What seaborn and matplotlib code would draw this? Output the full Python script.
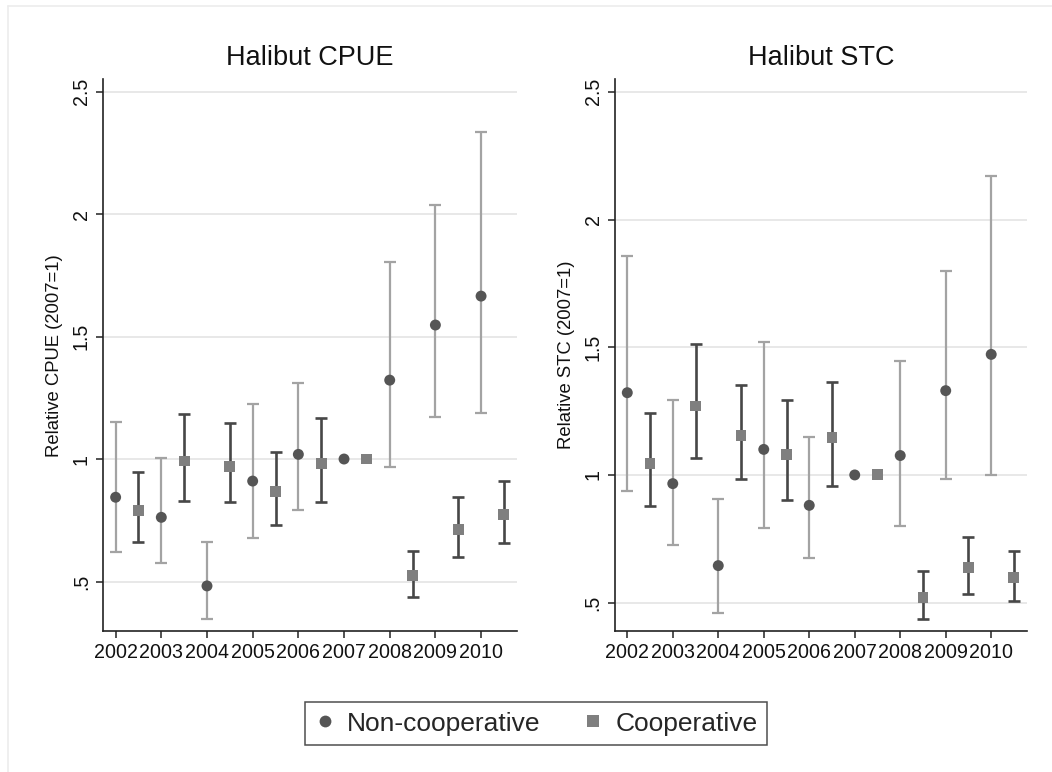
import numpy as np
import pandas as pd
import matplotlib
matplotlib.use("Agg")
import matplotlib.pyplot as plt
import seaborn as sns

years = [2002, 2003, 2004, 2005, 2006, 2007, 2008, 2009, 2010]
groups = ["Non-cooperative", "Cooperative"]

# Halibut CPUE, relative to 2007
cpue_non = [0.844, 0.762, 0.482, 0.910, 1.019, 1.000, 1.322, 1.547, 1.665]
cpue_non_lo = [0.622, 0.574, 0.348, 0.676, 0.792, np.nan, 0.969, 1.173, 1.186]
cpue_non_hi = [1.150, 1.003, 0.662, 1.226, 1.311, np.nan, 1.803, 2.037, 2.336]
cpue_coop = [0.790, 0.992, 0.971, 0.867, 0.982, 1.000, 0.524, 0.713, 0.774]
cpue_coop_lo = [0.660, 0.830, 0.824, 0.732, 0.826, np.nan, 0.438, 0.601, 0.658]
cpue_coop_hi = [0.948, 1.185, 1.146, 1.030, 1.169, np.nan, 0.624, 0.845, 0.909]

# Halibut STC, relative to 2007
stc_non = [1.322, 0.966, 0.645, 1.100, 0.881, 1.000, 1.076, 1.330, 1.472]
stc_non_lo = [0.937, 0.725, 0.459, 0.794, 0.674, np.nan, 0.800, 0.983, 1.000]
stc_non_hi = [1.858, 1.294, 0.905, 1.522, 1.150, np.nan, 1.446, 1.798, 2.169]
stc_coop = [1.044, 1.270, 1.153, 1.080, 1.145, 1.000, 0.521, 0.636, 0.597]
stc_coop_lo = [0.880, 1.068, 0.983, 0.902, 0.958, np.nan, 0.436, 0.534, 0.507]
stc_coop_hi = [1.241, 1.513, 1.353, 1.294, 1.363, np.nan, 0.622, 0.757, 0.701]

titles = ["Halibut CPUE", "Halibut STC"]
ylabels = ["Relative CPUE (2007=1)", "Relative STC (2007=1)"]
ytick_vals = [0.5, 1, 1.5, 2, 2.5]
ytick_text = [".5", "1", "1.5", "2", "2.5"]


def build_frame(non, non_lo, non_hi, coop, coop_lo, coop_hi):
    rows = []
    for i, y in enumerate(years):
        rows.append(dict(year=y, x=y, group=groups[0], est=non[i], lo=non_lo[i], hi=non_hi[i]))
        rows.append(dict(year=y, x=y + 0.5, group=groups[1], est=coop[i], lo=coop_lo[i], hi=coop_hi[i]))
    return pd.DataFrame(rows)


frames = [
    build_frame(cpue_non, cpue_non_lo, cpue_non_hi, cpue_coop, cpue_coop_lo, cpue_coop_hi),
    build_frame(stc_non, stc_non_lo, stc_non_hi, stc_coop, stc_coop_lo, stc_coop_hi),
]
ylims = [(0.298, 2.55), (0.389, 2.549)]

sns.set_theme(style="white")
plt.rcParams["font.family"] = ["Liberation Sans", "DejaVu Sans"]

fig = plt.figure(figsize=(10.52, 7.72), dpi=100)
fig.patch.set_facecolor("white")

# faint outer frame of the graph region
fig.add_artist(plt.Line2D([8 / 1052, 1.0], [1 - 6 / 772, 1 - 6 / 772], color="#ececec", lw=1.2))
fig.add_artist(plt.Line2D([8 / 1052, 8 / 1052], [0.0, 1 - 6 / 772], color="#ececec", lw=1.2))

axes_pos = [
    [103.3 / 1052, 1 - 631 / 772, 413.4 / 1052, 551.7 / 772],
    [615.0 / 1052, 1 - 631 / 772, 411.7 / 1052, 551.7 / 772],
]

mk_colors = {groups[0]: "#555555", groups[1]: "#7f7f7f"}
ci_colors = {groups[0]: "#a3a3a3", groups[1]: "#474747"}
ci_widths = {groups[0]: 1.6, groups[1]: 1.9}

for k, df in enumerate(frames):
    ax = fig.add_axes(axes_pos[k])
    ax.set_xlim(2001.73, 2010.78)
    ax.set_ylim(*ylims[k])
    for yv in ytick_vals:
        ax.axhline(yv, color="#e8e8e8", lw=1.4, zorder=0)

    for g in groups:
        sub = df[(df["group"] == g) & df["lo"].notna()]
        ax.errorbar(
            sub["x"], sub["est"],
            yerr=[sub["est"] - sub["lo"], sub["hi"] - sub["est"]],
            fmt="none", ecolor=ci_colors[g], elinewidth=ci_widths[g],
            capsize=4.2, capthick=ci_widths[g], zorder=2,
        )

    sns.scatterplot(
        data=df, x="x", y="est", hue="group", style="group",
        markers={groups[0]: "o", groups[1]: "s"},
        palette=mk_colors, s=62, linewidth=0, legend=False, ax=ax, zorder=3,
    )

    ax.set_xticks(years)
    ax.set_xticklabels([str(y) for y in years], fontsize=14.1, color="#111111")
    ax.set_yticks(ytick_vals)
    ax.set_yticklabels(ytick_text, fontsize=14.1, rotation=90, va="center", color="#111111")
    ax.tick_params(axis="both", direction="out", length=5, width=1.1, color="#222222",
                   bottom=True, left=True, pad=4)
    ax.set_xlabel("")
    ax.set_ylabel(ylabels[k], fontsize=13.3, color="#111111", labelpad=6)
    ax.set_title(titles[k], fontsize=19.5, color="#111111", pad=10)
    for side in ["top", "right"]:
        ax.spines[side].set_visible(False)
    for side in ["left", "bottom"]:
        ax.spines[side].set_color("#222222")
        ax.spines[side].set_linewidth(1.2)
    ax.grid(False)

# shared legend below the panels
handles = [
    plt.Line2D([], [], marker="o", linestyle="none", markersize=8.5,
               markerfacecolor=mk_colors[groups[0]], markeredgewidth=0),
    plt.Line2D([], [], marker="s", linestyle="none", markersize=8,
               markerfacecolor=mk_colors[groups[1]], markeredgewidth=0),
]
leg = fig.legend(
    handles, groups, loc="center", bbox_to_anchor=(536 / 1052, 1 - 723.5 / 772),
    ncol=2, fontsize=19, frameon=True, fancybox=False, borderpad=0.35,
    handlelength=0.8, handletextpad=0.45, columnspacing=1.6,
)
leg.get_frame().set_edgecolor("#222222")
leg.get_frame().set_linewidth(1.1)

fig.savefig("out.png", dpi=100, facecolor="white")
